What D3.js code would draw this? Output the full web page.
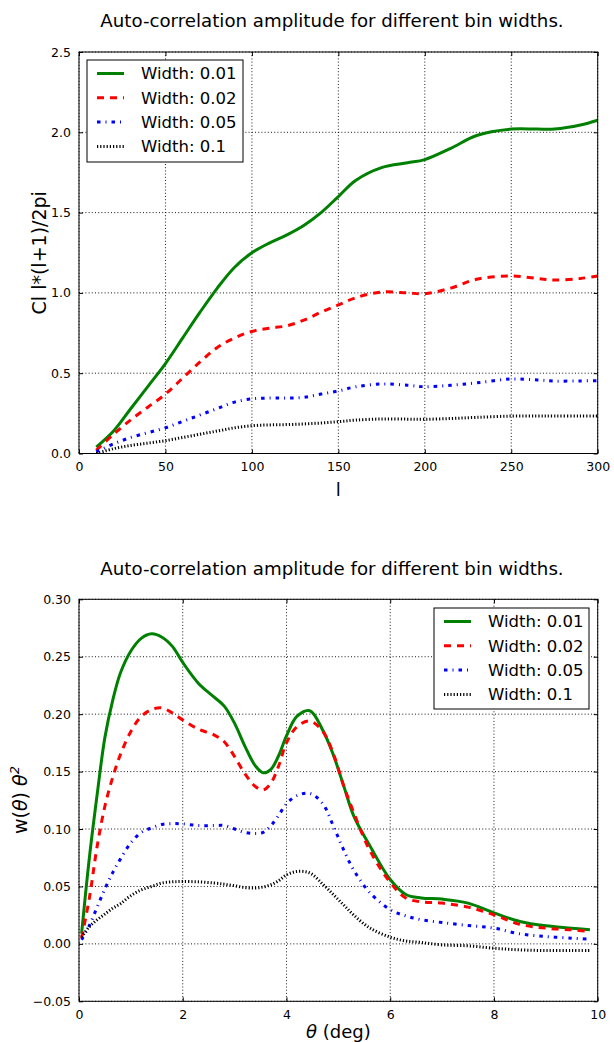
<!DOCTYPE html>
<html><head><meta charset="utf-8">
<script src="https://cdn.jsdelivr.net/npm/d3@7"></script>
<style>body{margin:0;background:#fff}svg{display:block}text{font-family:"DejaVu Sans",sans-serif}</style>
</head><body>
<script>
// ---- Data: top chart (multipole l) ----
const lVals = [10,20,30,40,50,60,70,80,90,100,110,120,130,140,150,160,175,190,200,215,230,250,265,275,290,300];
const cl001 = [0.04,0.14,0.28,0.42,0.56,0.72,0.88,1.03,1.16,1.25,1.31,1.36,1.42,1.50,1.60,1.70,1.78,1.81,1.83,1.90,1.98,2.02,2.02,2.02,2.045,2.075];
const cl002 = [0.02,0.12,0.21,0.29,0.37,0.47,0.57,0.66,0.72,0.76,0.78,0.795,0.83,0.88,0.925,0.97,1.005,1.0,0.995,1.03,1.085,1.105,1.09,1.08,1.09,1.105];
const cl005 = [0.01,0.06,0.10,0.13,0.16,0.20,0.24,0.28,0.32,0.34,0.345,0.345,0.35,0.37,0.39,0.415,0.433,0.425,0.416,0.425,0.44,0.464,0.458,0.451,0.452,0.453];
const cl01  = [0.0,0.03,0.05,0.065,0.08,0.10,0.12,0.14,0.16,0.173,0.178,0.18,0.184,0.19,0.198,0.208,0.215,0.214,0.213,0.218,0.225,0.233,0.233,0.233,0.233,0.233];

// ---- Data: bottom chart (theta in degrees) ----
const thVals = [0.05,0.2,0.35,0.5,0.65,0.8,1.0,1.2,1.4,1.6,1.8,2.0,2.3,2.6,2.8,3.0,3.2,3.4,3.55,3.7,3.85,4.0,4.2,4.45,4.7,4.9,5.1,5.3,5.6,6.0,6.3,6.6,7.0,7.5,8.0,8.5,9.0,9.5,9.85];
const w001 = [0.009,0.075,0.13,0.18,0.212,0.236,0.255,0.266,0.270,0.267,0.259,0.245,0.227,0.215,0.207,0.192,0.172,0.155,0.149,0.152,0.164,0.181,0.198,0.203,0.186,0.165,0.138,0.111,0.086,0.056,0.043,0.040,0.039,0.0355,0.027,0.0195,0.0157,0.0137,0.0122];
const w002 = [0.005,0.04,0.085,0.12,0.145,0.165,0.185,0.198,0.204,0.2055,0.201,0.195,0.187,0.182,0.176,0.163,0.148,0.137,0.134,0.140,0.155,0.175,0.189,0.194,0.185,0.166,0.138,0.114,0.082,0.0535,0.040,0.0365,0.0355,0.032,0.0253,0.017,0.0137,0.0122,0.0107];
const w005 = [0.0035,0.016,0.032,0.048,0.062,0.074,0.088,0.097,0.101,0.104,0.1047,0.1045,0.103,0.103,0.103,0.100,0.097,0.096,0.097,0.103,0.112,0.122,0.129,0.131,0.122,0.103,0.082,0.064,0.045,0.0297,0.0244,0.021,0.0186,0.016,0.0137,0.0087,0.0064,0.005,0.004];
const w01  = [0.006,0.015,0.021,0.026,0.031,0.035,0.042,0.047,0.050,0.053,0.054,0.0543,0.054,0.053,0.052,0.0506,0.049,0.0486,0.0495,0.0515,0.055,0.060,0.063,0.0617,0.052,0.043,0.034,0.025,0.014,0.0058,0.0025,0.0012,-0.0009,-0.0017,-0.0038,-0.0052,-0.0058,-0.0058,-0.0058];

const labels = ["Width: 0.01","Width: 0.02","Width: 0.05","Width: 0.1"];
const topTicksX = [0,50,100,150,200,250,300];
const topTicksY = [0.0,0.5,1.0,1.5,2.0,2.5];
const botTicksX = [0,2,4,6,8,10];
const botTicksY = [-0.05,0.00,0.05,0.10,0.15,0.20,0.25,0.30];

const styles = [
  {color:"#008000", dash:null, w:3},
  {color:"#ff0000", dash:"7,6", w:3},
  {color:"#0000ff", dash:"3.5,5,1,5", w:3},
  {color:"#000000", dash:"1.2,2", w:3}
];

const W = 614, H = 1042;
const svg = d3.select("body").append("svg").attr("width",W).attr("height",H);

function panel(o){
  const g = svg.append("g");
  const x = d3.scaleLinear().domain(o.xd).range([79,597.7]);
  const y = d3.scaleLinear().domain(o.yd).range(o.yr);
  const [y0,y1] = [o.yr[0], o.yr[1]];
  const clipId = "clip"+o.id;
  svg.append("clipPath").attr("id",clipId).append("rect")
    .attr("x",79).attr("y",y1).attr("width",597.7-79).attr("height",y0-y1);
  // grid
  g.selectAll(".gx").data(o.tx).join("line")
    .attr("x1",d=>x(d)).attr("x2",d=>x(d)).attr("y1",y1).attr("y2",y0)
    .attr("stroke","#000").attr("stroke-width",0.9).attr("stroke-dasharray","1,2.2");
  g.selectAll(".gy").data(o.ty).join("line")
    .attr("y1",d=>y(d)).attr("y2",d=>y(d)).attr("x1",79).attr("x2",597.7)
    .attr("stroke","#000").attr("stroke-width",0.9).attr("stroke-dasharray","1,2.2");
  // lines
  const line = d3.line().x(d=>x(d[0])).y(d=>y(d[1])).curve(d3.curveCatmullRom.alpha(0.5));
  o.series.forEach((s,i)=>{
    const st = styles[i];
    g.append("path").attr("d", line(o.xs.map((v,j)=>[v,s[j]])))
      .attr("fill","none").attr("stroke",st.color).attr("stroke-width",st.w)
      .attr("stroke-dasharray",st.dash).attr("clip-path",`url(#${clipId})`);
  });
  // frame
  g.append("rect").attr("x",79).attr("y",y1).attr("width",597.7-79).attr("height",y0-y1)
    .attr("fill","none").attr("stroke","#000").attr("stroke-width",1);
  // axes (ticks inward, labels)
  const ax = d3.axisBottom(x).tickValues(o.tx).tickFormat(o.fx).tickSizeInner(-4).tickSizeOuter(0).tickPadding(9);
  const gb = g.append("g").attr("transform",`translate(0,${y0})`).call(ax);
  const at = d3.axisTop(x).tickValues(o.tx).tickFormat("").tickSizeInner(-4).tickSizeOuter(0);
  const gt = g.append("g").attr("transform",`translate(0,${y1})`).call(at);
  const ayl = d3.axisLeft(y).tickValues(o.ty).tickFormat(o.fy).tickSizeInner(-4).tickSizeOuter(0).tickPadding(8);
  const gl = g.append("g").attr("transform",`translate(79,0)`).call(ayl);
  const ayr = d3.axisRight(y).tickValues(o.ty).tickFormat("").tickSizeInner(-4).tickSizeOuter(0);
  const gr = g.append("g").attr("transform",`translate(597.7,0)`).call(ayr);
  [gb,gt,gl,gr].forEach(a=>{
    a.select(".domain").remove();
    a.selectAll("text").attr("font-family","DejaVu Sans").attr("font-size",12.5).attr("fill","#000");
    a.selectAll(".tick line").attr("stroke","#000");
  });
  // title
  svg.append("text").attr("x",332).attr("y",o.titleY).attr("text-anchor","middle")
    .attr("font-size",18.2).text("Auto-correlation amplitude for different bin widths.");
  // legend
  const L = o.leg;
  const lg = svg.append("g");
  lg.append("rect").attr("x",L.x).attr("y",L.y).attr("width",L.w).attr("height",L.h)
    .attr("fill","#fff").attr("stroke","#000").attr("stroke-width",1);
  labels.forEach((t,i)=>{
    const yy = L.y + 13.5 + i*24.3;
    const st = styles[i];
    lg.append("line").attr("x1",L.x+10).attr("x2",L.x+37).attr("y1",yy).attr("y2",yy)
      .attr("stroke",st.color).attr("stroke-width",st.w).attr("stroke-dasharray",st.dash);
    lg.append("text").attr("x",L.x+54).attr("y",yy).attr("dy","0.36em")
      .attr("font-size",16.5).text(t);
  });
  return {x,y,y0,y1};
}

panel({id:1, xd:[0,300], yd:[0,2.5], yr:[453.5,52], tx:topTicksX, ty:topTicksY,
  fx:d3.format("d"), fy:d3.format(".1f"), xs:lVals, series:[cl001,cl002,cl005,cl01],
  titleY:27, leg:{x:87,y:60,w:156,h:102}});
svg.append("text").attr("transform",`translate(46,${(453.5+52)/2}) rotate(-90)`)
  .attr("text-anchor","middle").attr("font-size",19).text("Cl l*(l+1)/2pi");
svg.append("text").attr("x",(79+597.7)/2).attr("y",496).attr("text-anchor","middle")
  .attr("font-size",18).text("l");

const fmtB = d=> (d<0?"\u2212":"") + d3.format(".2f")(Math.abs(d));
panel({id:2, xd:[0,10], yd:[-0.05,0.30], yr:[1001.3,599.3], tx:botTicksX, ty:botTicksY,
  fx:d3.format("d"), fy:fmtB, xs:thVals, series:[w001,w002,w005,w01],
  titleY:575, leg:{x:434,y:608,w:155,h:101}});
const yl = svg.append("text").attr("transform",`translate(27,800) rotate(-90)`)
  .attr("text-anchor","middle").attr("font-size",19);
yl.append("tspan").text("w(");
yl.append("tspan").attr("font-style","italic").text("θ");
yl.append("tspan").text(") ");
yl.append("tspan").attr("font-style","italic").text("θ");
yl.append("tspan").attr("font-size",13).attr("dy",-8).attr("font-style","italic").text("2");
const xl = svg.append("text").attr("x",(79+597.7)/2).attr("y",1038).attr("text-anchor","middle").attr("font-size",18);
xl.append("tspan").attr("font-style","italic").text("θ");
xl.append("tspan").text(" (deg)");
</script>
</body></html>
